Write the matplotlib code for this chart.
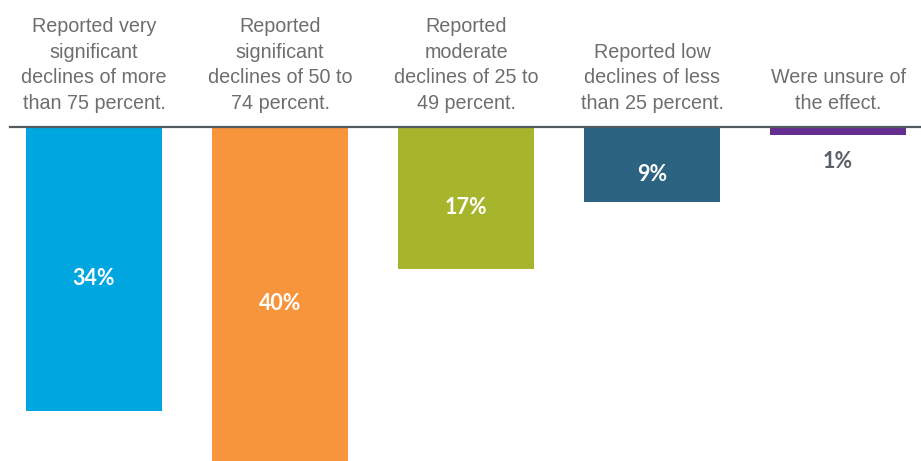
import matplotlib
matplotlib.use("Agg")
import matplotlib.pyplot as plt

categories = [
    "Reported very\nsignificant\ndeclines of more\nthan 75 percent.",
    "Reported\nsignificant\ndeclines of 50 to\n74 percent.",
    "Reported\nmoderate\ndeclines of 25 to\n49 percent.",
    "Reported low\ndeclines of less\nthan 25 percent.",
    "Were unsure of\nthe effect.",
]
values = [34, 40, 17, 9, 1]
value_labels = ["34%", "40%", "17%", "9%", "1%"]
colors = ["#00A6E0", "#F7953D", "#A7B52C", "#2B6380", "#662D91"]

W, H = 921, 461
fig = plt.figure(figsize=(W / 100, H / 100), dpi=100)
base_frac = 1 - 127 / H
ax = fig.add_axes([0, 0, 1, base_frac])
ax.set_axis_off()

x = list(range(len(values)))
ax.bar(x, [-v for v in values], width=0.731, color=colors, zorder=2)
ax.set_xlim(-94 / 186, (W - 94) / 186)
ax.set_ylim(-40, 0)
ax.axhline(0, xmin=10 / W, xmax=1, color="#555A60", lw=1.6, zorder=3, clip_on=False)

for i, (cat, v, lab) in enumerate(zip(categories, values, value_labels)):
    ax.annotate(cat, (i, 0), xytext=(0, 10), textcoords="offset points",
                ha="center", va="bottom", fontsize=14.2, color="#6E6E6E",
                family="Liberation Sans", linespacing=1.45,
                annotation_clip=False)
    if v >= 5:
        ax.annotate(lab, (i, -v / 2), xytext=(0, -7), textcoords="offset points",
                    ha="center", va="center", fontsize=15.5,
                    color="white", family="Lato", fontweight="bold")
    else:
        ax.annotate(lab, (i, -v), xytext=(0, -11), textcoords="offset points",
                    ha="center", va="top", fontsize=15.5, color="#5B5F66",
                    family="Lato", fontweight="bold", annotation_clip=False)

fig.savefig("out.png", dpi=100)
